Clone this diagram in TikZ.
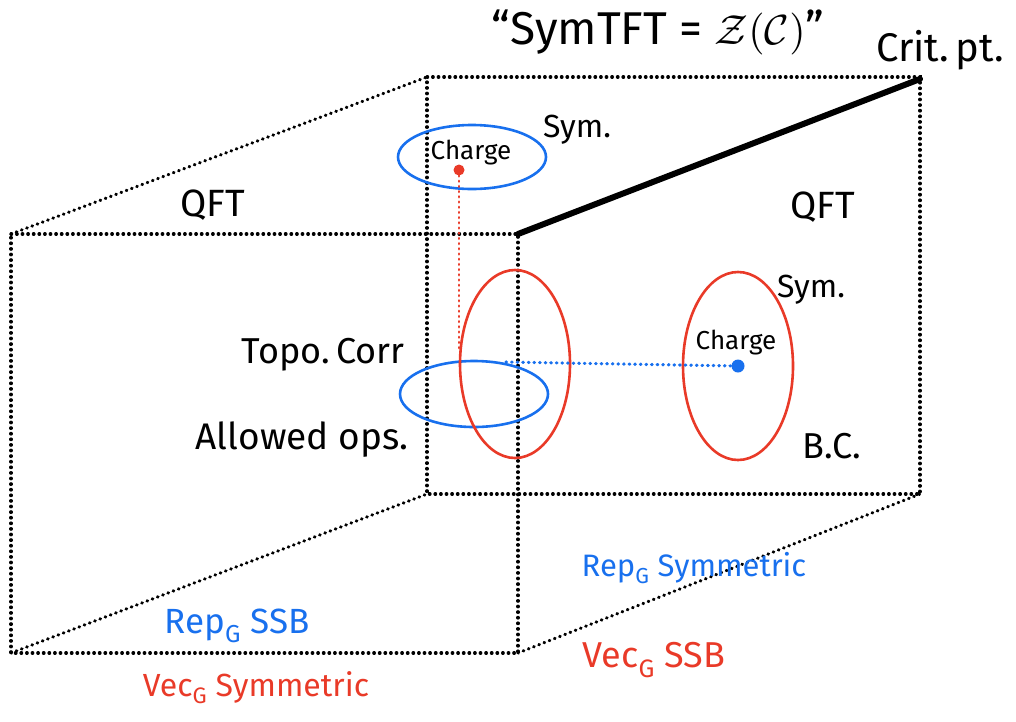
\documentclass[tikz,border=0pt]{standalone}
\usepackage{amsmath,amssymb}
\usepackage{graphicx}
\usepackage{fontspec}
\setmainfont{Fira Sans}
\usetikzlibrary{positioning}
\definecolor{blueink}{RGB}{24,112,238}
\definecolor{redink}{RGB}{233,58,40}

\begin{document}
\begin{tikzpicture}[
  x=1pt, y=-1pt,
  dotline/.style={line width=3.2pt, dash pattern=on 0.6pt off 5pt, line cap=round},
  redring/.style={draw=redink, line width=2.6pt},
  bluering/.style={draw=blueink, line width=2.6pt},
  hand/.style={font=\fontsize{#1}{#1}\selectfont, inner sep=1pt},
  hand/.default=28,
  chargedot/.style={circle, inner sep=0pt, minimum size=11pt}
]
\useasboundingbox (0,0) rectangle (1016,721);

% box corners (front and back faces)
\coordinate (ftl) at (11,234);
\coordinate (ftr) at (518,234);
\coordinate (fbl) at (11,653);
\coordinate (fbr) at (518,653);
\coordinate (btl) at (427,77);
\coordinate (btr) at (920,77);
\coordinate (bbl) at (427,494);
\coordinate (bbr) at (920,494);

\draw[dotline] (ftl) -- (ftr) -- (fbr) -- (fbl) -- cycle;
\draw[dotline] (btl) -- (btr) -- (bbr) -- (bbl) -- cycle;
\draw[dotline] (ftl) -- (btl);
\draw[dotline] (fbl) -- (bbl);
\draw[dotline] (fbr) -- (bbr);

% critical line
\coordinate (crit) at (920,79);
\draw[line width=6pt, line cap=round] (ftr) -- (crit);

% symmetry / boundary rings
\draw[bluering] (472,157) ellipse (74 and 32);
\draw[bluering] (474,394) ellipse (74 and 33);
\draw[redring] (515,364) ellipse (55 and 94);
\draw[redring] (738,366) ellipse (55 and 94);

% charges
\node[chargedot, fill=redink] (rdot) at (459,170) {};
\node[chargedot, fill=blueink, minimum size=13pt] (bdot) at (738,366) {};
\coordinate (rend) at (459,348);
\coordinate (bstart) at (506,362);
\draw[dotline, draw=redink, line width=2.8pt, dash pattern=on 0.6pt off 4.6pt] (rdot) -- (rend);
\draw[dotline, draw=blueink] (bstart) -- (bdot);

% labels
\node[hand=46] (title) at (658,32) {``SymTFT = \scalebox{4.2}{\normalsize$\mathcal{Z}(\mathcal{C})$}''};
\node[hand=40] (critpt) at (940,50) {Crit.\,pt.};
\node[hand=26] (chargeA) at (471,153) {Charge};
\node[hand=32] (symA) at (577,130) {Sym.};
\node[hand=38] (qftL) at (213,205) {QFT};
\node[hand=38] (qftR) at (823,207) {QFT};
\node[hand=32] (symB) at (811,290) {Sym.};
\node[hand=26] (chargeB) at (736,343) {Charge};
\node[hand=36] (bc) at (832,446) {B.C.};
\node[hand=36] (topo) at (323,355) {Topo.\,Corr};
\node[hand=37] (allowed) at (302,440) {Allowed ops.};
\node[hand=35, text=blueink] (repL) at (237,626) {Rep\textsubscript{G} SSB};
\node[hand=32, text=redink] (vecL) at (256,688) {Vec\textsubscript{G} Symmetric};
\node[hand=31, text=blueink] (repR) at (694,568) {Rep\textsubscript{G} Symmetric};
\node[hand=36, text=redink] (vecR) at (654,660) {Vec\textsubscript{G} SSB};

\end{tikzpicture}
\end{document}
